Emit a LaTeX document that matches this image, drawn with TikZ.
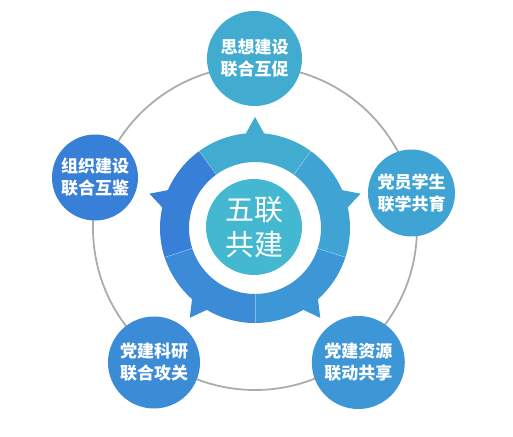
\documentclass[tikz,border=0pt]{standalone}
\usepackage{fontspec}
\newfontfamily\cjk{Noto Sans CJK SC}

% Színek
\definecolor{kozep}{HTML}{43B8D0}
\definecolor{kekA}{HTML}{41ACD0}
\definecolor{kekB}{HTML}{3FA3D3}
\definecolor{kekC}{HTML}{3D97D6}
\definecolor{kekD}{HTML}{3B8BD7}
\definecolor{kekE}{HTML}{387FD8}

% Gyűrűszelet csúccsal: #1 = középső szög, #2 = szín
\newcommand{\gyuruszelet}[2]{%
  \fill[#2] (#1-36:66) -- (#1-36:95)
    arc[start angle=#1-36, end angle=#1-5.5, radius=95]
    -- (#1:111) -- (#1+5.5:95)
    arc[start angle=#1+5.5, end angle=#1+36, radius=95]
    -- (#1+36:66)
    arc[start angle=#1+36, end angle=#1-36, radius=66] -- cycle;}

\begin{document}
\begin{tikzpicture}[x=1pt,y=1pt,
    % Stílus a külső körökhöz
    korcimke/.style={circle, minimum size=#1, inner sep=0pt, align=center,
        text=white, font=\cjk\bfseries\fontsize{17}{22}\selectfont}
]
    \useasboundingbox (0,0) rectangle (513,436);

    % Szürke kör a háttérben
    \coordinate (K) at (255,208);
    \draw[gray!65, line width=1.8pt] (K) circle (162);

    % Gyűrű öt szeletből
    \begin{scope}[shift={(K)}]
        \gyuruszelet{90}{kekA}
        \gyuruszelet{18}{kekB}
        \gyuruszelet{-54}{kekC}
        \gyuruszelet{-126}{kekD}
        \gyuruszelet{162}{kekE}
        % Halvány választóvonalak
        \draw[white, opacity=.35, line width=.6pt] (54:66) -- (54:95);
        \draw[white, opacity=.35, line width=.6pt] (126:66) -- (126:95);
        \draw[white, opacity=.35, line width=.6pt] (198:66) -- (198:95);
        \draw[white, opacity=.35, line width=.6pt] (270:66) -- (270:95);
        \draw[white, opacity=.35, line width=.6pt] (342:66) -- (342:95);
    \end{scope}

    % Középső kör
    \node[circle, fill=kozep, minimum size=96, inner sep=0pt, align=center,
        text=white, font=\cjk\fontsize{29}{35}\selectfont] (kozepkor) at (254,209)
        {五联\\共建};

    % Külső körök feliratokkal
    \node[korcimke=95, fill=kekA] (eszme) at (254.5,377.5) {思想建设\\联合互促};
    \node[korcimke=87, fill=kekB] (diak) at (411.5,243) {党员学生\\联学共育};
    \node[korcimke=93, fill=kekC] (forras) at (358.3,73.5) {党建资源\\联动共享};
    \node[korcimke=92, fill=kekD] (kutatas) at (154,73.5) {党建科研\\联合攻关};
    \node[korcimke=86, fill=kekE] (szervezet) at (95,258.5) {组织建设\\联合互鉴};
\end{tikzpicture}
\end{document}
